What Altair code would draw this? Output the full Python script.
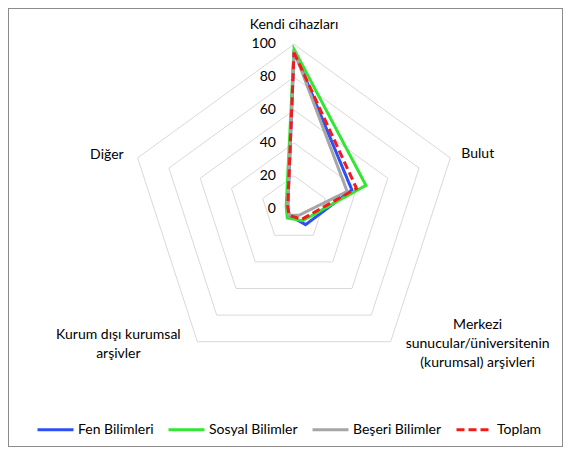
import altair as alt
import pandas as pd

categories = [
    "Kendi cihazları",
    "Bulut",
    "Merkezi sunucular/üniversitenin (kurumsal) arşivleri",
    "Kurum dışı kurumsal arşivler",
    "Diğer",
]
category_labels = [
    "Kendi cihazları",
    "Bulut",
    "Merkezi\nsunucular/üniversitenin\n(kurumsal) arşivleri",
    "Kurum dışı kurumsal\narşivler",
    "Diğer",
]
series_names = ["Fen Bilimleri", "Sosyal Bilimler", "Beşeri Bilimler", "Toplam"]
fen = [96, 37, 12, 5, 4]
sosyal = [97, 46, 9, 7, 5]
beseri = [96, 34, 5, 5, 4]
toplam = [95, 40, 8, 5, 4]
series_values = [fen, sosyal, beseri, toplam]
tick_values = [0, 20, 40, 60, 80, 100]
ring_values = [20, 40, 60, 80, 100]

colors = ["#2e4ff5", "#33e633", "#a6a6a6", "#f01c1c"]
dashes = [[1, 0], [1, 0], [1, 0], [8, 4]]

FONT = "Lato"
W, H = 555, 439

rows = []
for s, vals in zip(series_names, series_values):
    for i, (c, v) in enumerate(zip(categories, vals)):
        rows.append({"series": s, "category": c, "idx": i, "value": v})
df = pd.DataFrame(rows)

ring_rows = []
for r in ring_values:
    for i, c in enumerate(categories):
        ring_rows.append({"ring": r, "idx": i, "value": r})
rings_df = pd.DataFrame(ring_rows)

ticks_df = pd.DataFrame({"value": tick_values, "idx": [0] * len(tick_values),
                         "label": [str(t) for t in tick_values]})

xs = alt.Scale(domain=[-173.97, 163.63], nice=False, zero=False)
ys = alt.Scale(domain=[-144.95, 122.08], nice=False, zero=False)

def polar(chart):
    return chart.transform_calculate(
        ang="datum.idx * 2 * PI / 5",
    ).transform_calculate(
        px="datum.value * sin(datum.ang)",
        py="datum.value * cos(datum.ang)",
    )

X = alt.X("px:Q", scale=xs, axis=None)
Y = alt.Y("py:Q", scale=ys, axis=None)

rings = polar(alt.Chart(rings_df)).mark_line(
    interpolate="linear-closed", color="#d9d9d9", strokeWidth=1
).encode(x=X, y=Y, detail="ring:N", order="idx:Q")

ticks = polar(alt.Chart(ticks_df)).mark_text(
    align="right", baseline="middle", dx=-18, font=FONT, fontSize=14, color="#000000"
).encode(x=X, y=Y, text="label:N")

label_styles = [
    dict(align="center", dx=0, dy=-19),
    dict(align="left", dx=11, dy=-4),
    dict(align="center", dx=87, dy=-17),
    dict(align="center", dx=-79, dy=-7),
    dict(align="right", dx=-14, dy=-3),
]
label_layers = []
for i, (lab, st) in enumerate(zip(category_labels, label_styles)):
    ldf = pd.DataFrame({"idx": [i], "value": [100], "label": [lab]})
    label_layers.append(
        polar(alt.Chart(ldf)).mark_text(
            baseline="middle", lineBreak="\n", lineHeight=19, font=FONT, fontSize=14,
            color="#000000", **st
        ).encode(x=X, y=Y, text="label:N")
    )

color_scale = alt.Scale(domain=series_names, range=colors)
dash_scale = alt.Scale(domain=series_names, range=dashes)

series_layers = []
for s in series_names:
    series_layers.append(
        polar(alt.Chart(df)).transform_filter(alt.datum.series == s).mark_line(
            interpolate="linear-closed", strokeWidth=3
        ).encode(
            x=X, y=Y, order="idx:Q",
            color=alt.Color("series:N", scale=color_scale, title=None,
                            legend=alt.Legend(orient="none", legendX=28, legendY=402,
                                              direction="horizontal", title=None)),
            strokeDash=alt.StrokeDash("series:N", scale=dash_scale, title=None,
                                      legend=alt.Legend(orient="none", legendX=28, legendY=402,
                                                        direction="horizontal", title=None)),
        )
    )

chart = alt.layer(rings, ticks, *label_layers, *series_layers).properties(
    width=W, height=H, padding=0, autosize=alt.AutoSizeParams(type="none")
).configure_view(
    stroke="#8c8c8c", strokeWidth=2
).configure_legend(
    labelFont=FONT, labelFontSize=14, labelColor="#000000",
    symbolType="stroke", symbolSize=1296, symbolStrokeWidth=3,
    labelOffset=3, columnPadding=8, padding=0, labelLimit=300,
)

chart.save("out.html", embed_options={"renderer": "svg", "actions": False})
